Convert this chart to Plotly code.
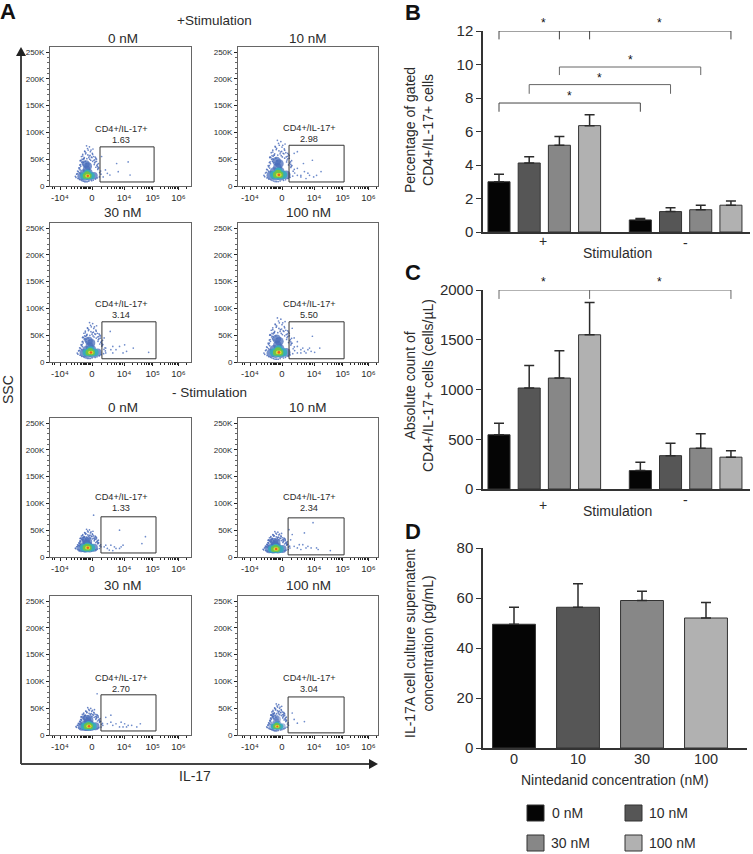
import plotly.graph_objects as go

W, H = 753, 854
FONT = "Liberation Sans, Arial, sans-serif"
INK = "#2b2b2b"

# ---------- data ----------
stim_labels = ["0 nM", "10 nM", "30 nM", "100 nM"]
bar_colors = ["#050505", "#565656", "#878787", "#b1b1b1"]

pct_mean = [3.0, 4.12, 5.18, 6.35, 0.72, 1.22, 1.33, 1.6]
pct_top = [3.45, 4.5, 5.7, 7.0, 0.8, 1.45, 1.6, 1.85]
count_mean = [545, 1015, 1115, 1550, 185, 335, 410, 320]
count_top = [660, 1240, 1390, 1875, 270, 460, 555, 385]
il17_mean = [49.5, 56.3, 59.0, 52.0]
il17_top = [56.3, 65.7, 62.7, 58.2]
dose_labels = ["0", "10", "30", "100"]

panel_titles = ["0 nM", "10 nM", "30 nM", "100 nM", "0 nM", "10 nM", "30 nM", "100 nM"]
gate_values = ["1.63", "2.98", "3.14", "5.50", "1.33", "2.34", "2.70", "3.04"]

# Cloud centre (biexponential axis units, SSC in K) and spread of each flow panel
center_x = [-0.10, -0.06, 0.0, -0.06, -0.10, -0.15, -0.06, -0.12]
center_y = [20, 22, 18.6, 19, 17.7, 15.6, 16.8, 16.8]
spread_x = [1.0, 1.2, 1.1, 1.2, 1.0, 1.05, 1.05, 0.85]
spread_y = [1.0, 1.15, 1.0, 1.15, 0.62, 0.58, 0.62, 0.75]
core_scale = [0.95, 1.1, 1.0, 1.1, 1.0, 1.0, 1.0, 0.8]

# Gates: x0, x1 (axis units), y0, y1 (K)
gate_x0 = [0.25, 0.22, 0.31, 0.22, 0.28, 0.19, 0.28, 0.19]
gate_x1 = [1.94, 1.94, 2.0, 1.94, 2.0, 1.94, 2.0, 1.94]
gate_y0 = [7.5, 7.5, 6, 6, 7.5, 4, 7.5, 4]
gate_y1 = [73, 76, 75, 75, 75, 73, 75, 71]

# Sparse events
stray_x = [
    [.48, .82, 1.13, 1.19, .77, .35, .56, .30, .42],
    [.48, .59, .70, .81, .86, .99, 1.22, .95, .67, .38, .48, .59, .75, .48, 1.08],
    [.59, .43, .65, .86, 1.02, 1.08, 1.29, 1.77, .57, .38, .65, .75, .97, .43],
    [.48, .59, .65, .75, .81, .59, 1.02, 1.18, .95, .70, .86, .48, .38, .32, .48, .91],
    [.38, .48, .59, .70, .86, .97, .65, .54, .43, 1.67, 1.56, .86, .05, .75, .91],
    [.38, .48, .65, .75, .91, 1.08, 1.13, .81, .54, 1.51, .97, .70, .32, .27, .22, .59],
    [.48, .65, .75, .91, 1.02, 1.13, 1.08, 1.24, 1.51, 1.40, .86, .59, .43, .16, .59, .97],
    [.70, .48, .38, .32],
]
stray_y = [
    [23.6, 26.7, 45, 20.5, 42, 17, 20.5, 55, 30],
    [20, 17, 27, 24, 20, 17, 27, 48, 42, 61, 64, 20, 14, 33, 20],
    [23, 26, 29, 29, 32, 20, 26, 18, 57, 45, 17, 23, 17, 17],
    [29, 23, 26, 17, 23, 17, 18, 26, 48, 20, 26, 38, 45, 63, 17, 20],
    [19, 16, 22, 19, 16, 22, 12, 13, 22, 38, 25, 50, 78, 16, 19],
    [20, 17, 23, 17, 17, 17, 14, 20, 23, 12, 64, 45, 42, 32, 51, 14],
    [21, 18, 21, 24, 21, 18, 15, 18, 21, 15, 15, 37, 33, 77, 24, 15],
    [25, 22, 29, 41],
]

# Outline of the shared cloud, offsets from its centre
cloud_dx = [-.42, -.38, -.34, -.40, -.30, -.29, -.36, -.27, -.24, -.33, -.28, -.21, -.30, -.26, -.17, -.25, -.22,
            -.13, -.20, -.18, -.09, -.24, -.14, -.05, -.19, -.10, .0, -.15, .04, .09, -.12, .24, .14, .12, .20, .21,
            .17, .27, .26, .22, .31, .33, .28, .37, .38, .34, -.16, -.09, .07, .18, -.23, -.04, .11, .20, -.27,
            .25, -.13, .02, .10, -.19, -.07, .16, -.03, .05, -.21, .13, -.17, .01, -.26, .29,
            -.35, -.31, -.28, .30, .24, .19, .15, -.11, -.06, .08, .03, -.02, .22, .28, -.20, -.16, .12, .06, .0, -.08]
cloud_dy = [-2, 2, -6, -4, 5, -8, 3, 10, -9, 7, 14, -10, 12, 20, -11, 17, 24,
            -12, 21, 29, -12, 27, 33, -12, 36, 40, -11, 31, 37, -10, 44, 30, -9, 26, 25, -7,
            20, 20, -5, 32, 14, -3, 16, 8, 2, 5, 31, 42, 47, 23, 35, 50, 41, 34, 27,
            18, 45, 53, 33, 39, 55, 28, 38, 44, 30, 49, 24, 36, 28, 13,
            8, 14, 19, 22, 26, 29, 35, 26, 31, 34, 30, 47, 15, 11, 25, 19, 39, 28, 33, 22]

halo_dx = [-.24, -.12, .02, .16, -.16, .0, -.07, -.02, -.09]
halo_dy = [-2, -3, -3, -1, 4, 5, 11, 17, 21]
teal_dx = [-.16, -.04, .08, -.04]
teal_dy = [-1, -2, -1, 4]
green_dx = [-.10, .0, -.05]
green_dy = [-1, -1, 2]
yellow_dx = [-.06, -.01]
yellow_dy = [-1, -1]
red_dx = [-.03]
red_dy = [-1]

flow_major_x = [-1, 0, 1, 1.9, 2.7]
flow_major_labels = ["-10⁴", "0", "10⁴", "10⁵", "10⁶"]
flow_minor_x = [-1.25, -1.18, -.8, -.65, -.55, -.45, -.36, -.32, -.28, -.24, -.20, -.16, -.12, -.08, -.04,
                .3, .48, .6, .7, .78, .85, .9, .95, 1.27, 1.43, 1.54, 1.63, 1.7, 1.76, 1.81, 1.86,
                2.14, 2.28, 2.38, 2.46, 2.52, 2.58, 2.62, 2.66, 2.94]

# ---------- pixel helpers ----------
def px(x):
    return x / W

def py(y):
    return 1 - y / H

fig = go.Figure()
shapes, notes = [], []

def txt(x, y, s, size=13, color=INK, rot=0, bold=False):
    notes.append(dict(x=px(x), y=py(y), xref="paper", yref="paper", text=f"<b>{s}</b>" if bold else s,
                      showarrow=False, xanchor="center", yanchor="middle", textangle=rot, align="center",
                      font=dict(family=FONT, size=size, color=color)))

# ---------- flow panels ----------
col_px = [(50, 191), (238, 378)]
col_zero = [92, 282]
row_px = [(47, 186), (223, 362), (418, 557), (596, 735)]
unit_px = 32.0
k_px = 0.536
title_pos = [(123, 38), (308, 38), (123, 212), (308, 212), (123, 407), (308, 407), (123, 585), (308, 585)]
label_pos = [(121, 129), (309, 128), (121, 304), (309, 304), (121, 497), (309, 497), (121, 678), (309, 678)]
layout_axes = {}

for i in range(8):
    c, r = i % 2, i // 2
    ax = i + 1
    xn, yn = f"x{ax}", f"y{ax}"
    xl, yl = f"xaxis{ax}", f"yaxis{ax}"
    l, rgt = col_px[c]
    t, b = row_px[r]
    layout_axes[xl] = dict(
        domain=[px(l), px(rgt)], anchor=yn, mirror=True, showline=True, linecolor="#666666", linewidth=1,
        range=[(l - col_zero[c]) / unit_px, (rgt - col_zero[c]) / unit_px], showgrid=False, zeroline=False,
        tickmode="array", tickvals=flow_major_x, ticktext=flow_major_labels, ticks="outside", ticklen=3,
        tickwidth=1, tickcolor="#222222", tickfont=dict(family=FONT, size=9.5, color=INK),
        minor=dict(tickmode="array", tickvals=flow_minor_x, ticks="outside", ticklen=2, tickwidth=1,
                   tickcolor="#222222", showgrid=False))
    layout_axes[yl] = dict(
        domain=[py(b), py(t)], anchor=xn, mirror=True, showline=True, linecolor="#666666", linewidth=1,
        range=[0, (b - t) / k_px], showgrid=False, zeroline=False, tickmode="array",
        tickvals=[0, 50, 100, 150, 200, 250], ticktext=["0", "50K", "100K", "150K", "200K", "250K"],
        ticks="outside", ticklen=3, tickwidth=1, tickcolor="#222222",
        tickfont=dict(family=FONT, size=8, color=INK),
        minor=dict(dtick=10, ticks="outside", ticklen=2, tickwidth=1, tickcolor="#666666", showgrid=False))

    def layer(dx, dy, size, color, op=1.0):
        fig.add_trace(go.Scatter(
            x=[center_x[i] + d * spread_x[i] for d in dx],
            y=[center_y[i] + d * spread_y[i] for d in dy],
            mode="markers", xaxis=xn, yaxis=yn, showlegend=False, hoverinfo="skip",
            marker=dict(size=size, color=color, opacity=op, line=dict(width=0))))

    s = core_scale[i]
    layer(cloud_dx, cloud_dy, 1.7, "#4668b8", 0.8)
    layer(halo_dx, halo_dy, 8 * s, "#4a6dbb", 0.75 if i != 7 else 0.5)
    layer(teal_dx, teal_dy, 7.5 * s, "#35aebb", 0.9)
    layer(green_dx, green_dy, 6 * s, "#6cc448")
    layer(yellow_dx, yellow_dy, 3.5 * s, "#e3da36")
    layer(red_dx, red_dy, 2.5 * s, "#e8601f")
    fig.add_trace(go.Scatter(x=stray_x[i], y=stray_y[i], mode="markers", xaxis=xn, yaxis=yn,
                             showlegend=False, hoverinfo="skip",
                             marker=dict(size=1.7, color="#6f8ccb", line=dict(width=0))))
    shapes.append(dict(type="rect", xref=xn, yref=yn, x0=gate_x0[i], x1=gate_x1[i], y0=gate_y0[i], y1=gate_y1[i],
                       line=dict(color="#333333", width=1)))
    txt(*title_pos[i], panel_titles[i], size=13.5)
    txt(label_pos[i][0], label_pos[i][1], "CD4+/IL-17+", size=9.2)
    txt(label_pos[i][0], label_pos[i][1] + 11, gate_values[i], size=9.2)

# ---------- bar panels ----------
group_gap = 0.68
bar_pos = [0, 1, 2, 3, 4 + group_gap, 5 + group_gap, 6 + group_gap, 7 + group_gap]
B_AX, C_AX, D_AX = 9, 10, 11

def bars(ax, pos, mean, top, colors, width):
    fig.add_trace(go.Bar(
        x=pos, y=mean, width=width, xaxis=f"x{ax}", yaxis=f"y{ax}", showlegend=False, hoverinfo="skip",
        marker=dict(color=colors, line=dict(color="#333333", width=1)),
        error_y=dict(type="data", symmetric=False, array=[a - b for a, b in zip(top, mean)],
                     arrayminus=[0] * len(mean), color="#2b2b2b", thickness=1.5, width=5)))

def bar_axes(ax, domx, domy, rx, ry, dtick, ticks=None, labels=None):
    layout_axes[f"xaxis{ax}"] = dict(
        domain=[px(domx[0]), px(domx[1])], anchor=f"y{ax}", range=rx, showline=True, linecolor="#333333",
        linewidth=1.5, showgrid=False, zeroline=False, ticks="", ticklabelstandoff=-3,
        showticklabels=ticks is not None, tickmode="array", tickvals=ticks or [], ticktext=labels or [],
        tickfont=dict(family=FONT, size=14.5, color=INK))
    layout_axes[f"yaxis{ax}"] = dict(
        domain=[py(domy[1]), py(domy[0])], anchor=f"x{ax}", range=ry, showline=True, linecolor="#333333",
        linewidth=1.5, showgrid=False, zeroline=False, dtick=dtick, ticks="outside", ticklen=5, tickwidth=1.2,
        tickcolor="#333333", tickfont=dict(family=FONT, size=15, color=INK))

unit = 30.2
rx_bc = [(483 - 499) / unit, (750 - 499) / unit]
colors8 = bar_colors * 2
bars(B_AX, bar_pos, pct_mean, pct_top, colors8, 0.73)
bar_axes(B_AX, (483, 750), (31, 232), rx_bc, [0, 12], 2)
bars(C_AX, bar_pos, count_mean, count_top, colors8, 0.73)
bar_axes(C_AX, (483, 750), (290, 489), rx_bc, [0, 2000], 500)

dose_pos = [0, 1, 2, 3]
unit_d = 64.0
bars(D_AX, dose_pos, il17_mean, il17_top, bar_colors, 0.67)
bar_axes(D_AX, (483, 747), (548, 748), [(483 - 514) / unit_d, (747 - 514) / unit_d], [0, 80], 20,
         ticks=dose_pos, labels=dose_labels)

def hline(ax, x0, x1, y, color="#444444"):
    shapes.append(dict(type="line", xref=f"x{ax}", yref=f"y{ax}", x0=x0, x1=x1, y0=y, y1=y,
                       line=dict(color=color, width=1)))

def vline(ax, x, y0, y1, color="#444444"):
    shapes.append(dict(type="line", xref=f"x{ax}", yref=f"y{ax}", x0=x, x1=x, y0=y0, y1=y1,
                       line=dict(color=color, width=1)))

def bracket(ax, a, b, y, drop, color="#444444"):
    hline(ax, bar_pos[a], bar_pos[b], y, color)
    vline(ax, bar_pos[a], y, y - drop, color)
    vline(ax, bar_pos[b], y, y - drop, color)

def star(ax, x, y):
    notes.append(dict(x=x, y=y, xref=f"x{ax}", yref=f"y{ax}", text="*", showarrow=False, xanchor="center",
                      yanchor="middle", font=dict(family=FONT, size=12, color="#111111")))

def star_top(ax, x, ypx):
    notes.append(dict(x=x, y=py(ypx), xref=f"x{ax}", yref="paper", text="*", showarrow=False, xanchor="center",
                      yanchor="middle", font=dict(family=FONT, size=12, color="#111111")))

bracket(B_AX, 0, 7, 12, 0.5)
vline(B_AX, bar_pos[2], 12, 11.5)
vline(B_AX, bar_pos[3], 12, 11.5)
bracket(B_AX, 2, 6, 9.85, 0.48, "#666666")
bracket(B_AX, 1, 5, 8.8, 0.55, "#666666")
bracket(B_AX, 0, 4, 7.7, 0.52)
star_top(B_AX, 1.46, 23)
star_top(B_AX, 5.33, 23)
star(B_AX, 4.34, 10.25)
star(B_AX, 3.34, 9.2)
star(B_AX, 2.32, 8.1)

bracket(C_AX, 0, 7, 2000, 90, "#666666")
vline(C_AX, bar_pos[3], 2000, 1910, "#666666")
star_top(C_AX, 1.46, 282)
star_top(C_AX, 5.33, 282)

# ---------- text ----------
txt(8, 11, "A", size=22, color="#111111", bold=True)
txt(413, 12, "B", size=22, color="#111111", bold=True)
txt(413, 272, "C", size=22, color="#111111", bold=True)
txt(413, 531, "D", size=22, color="#111111", bold=True)
txt(214, 20, "+Stimulation", size=13.5)
txt(210, 392, "- Stimulation", size=13.5)
txt(8, 390, "SSC", size=14, rot=-90)
txt(195, 776, "IL-17", size=14)

txt(419, 130, "Percentage of gated<br>CD4+/IL-17+ cells", size=14, rot=-90)
txt(617, 253, "Stimulation", size=14)
txt(543, 241, "+", size=14)
txt(685, 243, "-", size=14)
txt(419, 385, "Absolute count of<br>CD4+/IL-17+ cells (cells/µL)", size=14, rot=-90)
txt(617, 511, "Stimulation", size=14)
txt(543, 505, "+", size=14)
txt(685, 500, "-", size=14)
txt(419, 643, "IL-17A cell culture supernatent<br>concentration (pg/mL)", size=14, rot=-90)
txt(615, 780, "Nintedanid concentration (nM)", size=14)

# legend
legend_box = [(527, 805), (625, 805), (527, 835), (625, 835)]
legend_text = [(567, 813), (668, 813), (570, 843), (672, 843)]
for (x, y), (tx, ty), lab, col in zip(legend_box, legend_text, stim_labels, bar_colors):
    shapes.append(dict(type="rect", xref="paper", yref="paper", x0=px(x), x1=px(x + 17), y0=py(y + 16), y1=py(y),
                       fillcolor=col, line=dict(color="#333333", width=1)))
    txt(tx, ty, lab, size=14)

# big axis arrows
AR = "#444444"
shapes.append(dict(type="line", xref="paper", yref="paper", x0=px(21), x1=px(21), y0=py(764), y1=py(55),
                   line=dict(color=AR, width=2)))
shapes.append(dict(type="line", xref="paper", yref="paper", x0=px(21), x1=px(370), y0=py(764), y1=py(764),
                   line=dict(color=AR, width=2)))
shapes.append(dict(type="path", xref="paper", yref="paper",
                   path=f"M {px(16)} {py(56)} L {px(26)} {py(56)} L {px(21)} {py(47)} Z",
                   fillcolor="#222222", line=dict(width=0)))
shapes.append(dict(type="path", xref="paper", yref="paper",
                   path=f"M {px(369)} {py(759)} L {px(369)} {py(769)} L {px(378)} {py(764)} Z",
                   fillcolor="#222222", line=dict(width=0)))

fig.update_layout(template="none", width=W, height=H, margin=dict(l=0, r=0, t=0, b=0), autosize=False,
                  plot_bgcolor="white", paper_bgcolor="white", showlegend=False, shapes=shapes,
                  annotations=notes, barmode="overlay", **layout_axes)
fig.write_html("out.html", config=dict(displayModeBar=False), post_script="document.body.style.margin='0';")
